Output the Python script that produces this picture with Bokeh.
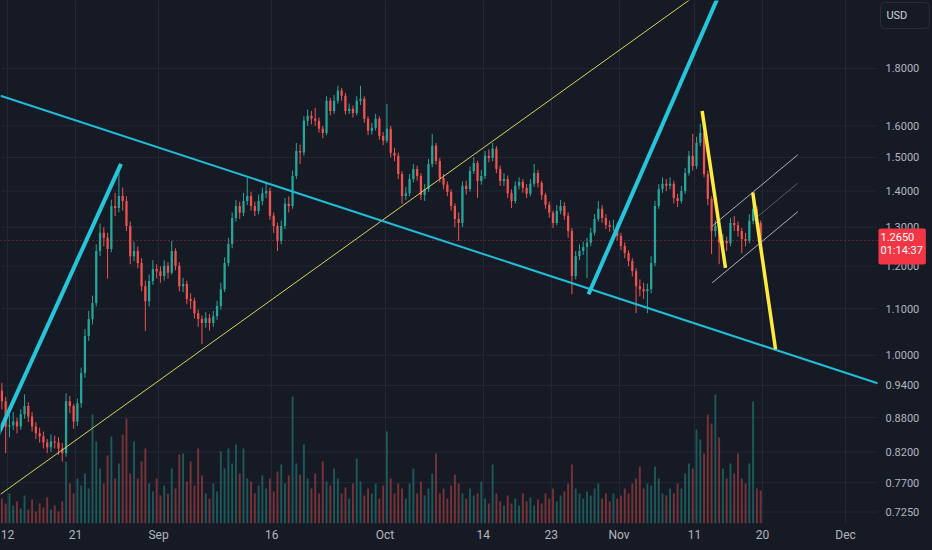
import pandas as pd
from bokeh.plotting import figure
from bokeh.models import (Range1d, LinearScale, FixedTicker, Label, ColumnDataSource,
                          GlobalInlineStyleSheet)
from bokeh.core.properties import value
from bokeh.embed import file_html
from bokeh.resources import INLINE

# ---------------- data (12h candles) ----------------
candle_start = "2024-08-11 06:00"
candle_hours = 12
first_open = 0.930

closes = [
    0.910, 0.864, 0.866, 0.873, 0.864, 0.886, 0.901, 0.882, 0.864, 0.852,
    0.847, 0.836, 0.828, 0.838, 0.836, 0.826, 0.818, 0.910, 0.901, 0.873,
    0.906, 0.964, 1.040, 1.077, 1.113, 1.238, 1.285, 1.272, 1.243, 1.358,
    1.352, 1.386, 1.372, 1.303, 1.225, 1.238, 1.208, 1.152, 1.117, 1.164,
    1.193, 1.188, 1.176, 1.201, 1.184, 1.238, 1.201, 1.152, 1.157, 1.122,
    1.118, 1.090, 1.077, 1.068, 1.079, 1.068, 1.083, 1.106, 1.145, 1.208,
    1.256, 1.325, 1.358, 1.339, 1.372, 1.386, 1.358, 1.344, 1.372, 1.394,
    1.400, 1.331, 1.303, 1.264, 1.303, 1.364, 1.358, 1.444, 1.520, 1.515,
    1.617, 1.634, 1.624, 1.617, 1.591, 1.577, 1.685, 1.650, 1.685, 1.720,
    1.702, 1.650, 1.657, 1.643, 1.685, 1.692, 1.624, 1.584, 1.594, 1.624,
    1.567, 1.552, 1.591, 1.514, 1.505, 1.450, 1.386, 1.394, 1.435, 1.465,
    1.444, 1.389, 1.406, 1.480, 1.536, 1.489, 1.438, 1.418, 1.397, 1.358,
    1.322, 1.311, 1.415, 1.406, 1.459, 1.483, 1.429, 1.444, 1.505, 1.498,
    1.527, 1.465, 1.429, 1.435, 1.394, 1.372, 1.415, 1.426, 1.409, 1.392,
    1.421, 1.453, 1.423, 1.389, 1.361, 1.339, 1.311, 1.344, 1.358, 1.331,
    1.290, 1.176, 1.225, 1.238, 1.248, 1.259, 1.285, 1.322, 1.350, 1.325,
    1.306, 1.301, 1.303, 1.277, 1.251, 1.233, 1.213, 1.188, 1.152, 1.145,
    1.140, 1.145, 1.208, 1.358, 1.406, 1.421, 1.415, 1.421, 1.380, 1.372,
    1.400, 1.453, 1.505, 1.474, 1.546, 1.577, 1.450, 1.377, 1.290, 1.303,
    1.259, 1.264, 1.258, 1.311, 1.305, 1.290, 1.269, 1.264, 1.317, 1.350,
    1.311, 1.265,
]

highs = [
    0.945, 0.918, 0.885, 0.890, 0.880, 0.895, 0.923, 0.908, 0.890, 0.872,
    0.862, 0.855, 0.842, 0.850, 0.848, 0.845, 0.835, 0.925, 0.920, 0.905,
    0.915, 0.975, 1.055, 1.095, 1.130, 1.255, 1.310, 1.300, 1.285, 1.375,
    1.395, 1.474, 1.410, 1.385, 1.315, 1.262, 1.250, 1.220, 1.165, 1.180,
    1.215, 1.205, 1.200, 1.215, 1.210, 1.264, 1.245, 1.210, 1.172, 1.165,
    1.135, 1.125, 1.098, 1.085, 1.092, 1.088, 1.095, 1.118, 1.160, 1.222,
    1.272, 1.340, 1.375, 1.370, 1.395, 1.440, 1.398, 1.370, 1.390, 1.410,
    1.425, 1.410, 1.340, 1.312, 1.318, 1.380, 1.385, 1.460, 1.545, 1.540,
    1.632, 1.655, 1.650, 1.660, 1.628, 1.600, 1.700, 1.695, 1.705, 1.737,
    1.730, 1.712, 1.675, 1.668, 1.700, 1.737, 1.700, 1.632, 1.610, 1.640,
    1.632, 1.580, 1.674, 1.600, 1.530, 1.515, 1.458, 1.412, 1.450, 1.480,
    1.475, 1.452, 1.420, 1.495, 1.574, 1.545, 1.498, 1.450, 1.428, 1.405,
    1.365, 1.340, 1.428, 1.430, 1.472, 1.500, 1.490, 1.462, 1.520, 1.525,
    1.545, 1.535, 1.475, 1.452, 1.445, 1.405, 1.428, 1.440, 1.435, 1.420,
    1.435, 1.480, 1.462, 1.430, 1.395, 1.370, 1.345, 1.360, 1.375, 1.368,
    1.340, 1.298, 1.238, 1.255, 1.262, 1.272, 1.298, 1.335, 1.372, 1.360,
    1.335, 1.318, 1.320, 1.312, 1.285, 1.260, 1.240, 1.220, 1.195, 1.168,
    1.160, 1.158, 1.225, 1.372, 1.420, 1.440, 1.435, 1.440, 1.430, 1.392,
    1.415, 1.468, 1.520, 1.574, 1.565, 1.607, 1.585, 1.460, 1.385, 1.318,
    1.310, 1.282, 1.275, 1.325, 1.330, 1.315, 1.298, 1.285, 1.335, 1.392,
    1.358, 1.318,
]

lows = [
    0.895, 0.818, 0.845, 0.858, 0.852, 0.858, 0.878, 0.872, 0.855, 0.842,
    0.836, 0.826, 0.818, 0.820, 0.826, 0.815, 0.804, 0.812, 0.888, 0.860,
    0.865, 0.898, 0.955, 1.030, 1.065, 1.105, 1.225, 1.250, 1.170, 1.235,
    1.330, 1.340, 1.345, 1.290, 1.205, 1.212, 1.195, 1.140, 1.051, 1.105,
    1.155, 1.170, 1.160, 1.165, 1.170, 1.180, 1.190, 1.140, 1.138, 1.110,
    1.100, 1.078, 1.060, 1.023, 1.058, 1.052, 1.060, 1.075, 1.098, 1.138,
    1.200, 1.245, 1.315, 1.322, 1.330, 1.360, 1.345, 1.330, 1.335, 1.360,
    1.380, 1.320, 1.285, 1.238, 1.255, 1.295, 1.340, 1.350, 1.435, 1.480,
    1.505, 1.600, 1.605, 1.600, 1.578, 1.560, 1.570, 1.635, 1.640, 1.675,
    1.685, 1.638, 1.640, 1.628, 1.635, 1.670, 1.610, 1.570, 1.572, 1.585,
    1.555, 1.538, 1.545, 1.500, 1.488, 1.435, 1.364, 1.375, 1.385, 1.425,
    1.430, 1.375, 1.372, 1.398, 1.470, 1.478, 1.425, 1.405, 1.385, 1.345,
    1.300, 1.264, 1.300, 1.390, 1.398, 1.450, 1.380, 1.418, 1.435, 1.485,
    1.488, 1.452, 1.415, 1.415, 1.380, 1.352, 1.365, 1.405, 1.395, 1.380,
    1.385, 1.412, 1.410, 1.375, 1.350, 1.325, 1.298, 1.305, 1.335, 1.320,
    1.272, 1.133, 1.168, 1.215, 1.228, 1.171, 1.250, 1.278, 1.315, 1.312,
    1.295, 1.288, 1.290, 1.265, 1.240, 1.220, 1.200, 1.175, 1.090, 1.128,
    1.122, 1.090, 1.135, 1.200, 1.350, 1.395, 1.400, 1.405, 1.365, 1.355,
    1.365, 1.392, 1.445, 1.460, 1.465, 1.535, 1.440, 1.360, 1.230, 1.275,
    1.205, 1.245, 1.238, 1.250, 1.290, 1.275, 1.232, 1.250, 1.258, 1.308,
    1.295, 1.255,
]

volumes = [
    25, 20, 30, 18, 22, 15, 28, 14, 24, 12,
    20, 16, 26, 14, 18, 12, 22, 62, 40, 30,
    45, 38, 50, 35, 109, 82, 55, 40, 68, 87,
    45, 60, 89, 105, 50, 82, 45, 62, 75, 40,
    32, 45, 28, 38, 30, 55, 35, 69, 70, 42,
    62, 38, 75, 48, 30, 25, 40, 32, 72, 55,
    75, 60, 79, 50, 75, 45, 42, 30, 38, 48,
    35, 45, 32, 52, 59, 40, 48, 127, 60, 49,
    79, 45, 35, 50, 30, 62, 42, 38, 55, 45,
    30, 36, 25, 40, 65, 42, 28, 35, 30, 40,
    25, 38, 92, 45, 30, 40, 35, 25, 40, 55,
    30, 42, 28, 35, 50, 70, 30, 35, 25, 38,
    49, 40, 30, 25, 35, 28, 30, 42, 25, 20,
    59, 30, 22, 18, 28, 20, 25, 18, 30, 22,
    26, 18, 24, 20, 30, 25, 35, 22, 28, 32,
    40, 59, 35, 30, 25, 32, 28, 35, 40, 25,
    30, 22, 30, 25, 28, 35, 30, 40, 45, 57,
    35, 40, 38, 57, 45, 30, 28, 35, 30, 40,
    35, 50, 60, 55, 94, 84, 70, 109, 100, 129,
    86, 55, 45, 60, 50, 70, 45, 40, 60, 122,
    35, 33,
]

# axes
tick_dates = ["2024-08-12", "2024-08-21", "2024-09-01", "2024-09-16", "2024-10-01",
              "2024-10-14", "2024-10-23", "2024-11-01", "2024-11-11", "2024-11-20",
              "2024-12-01"]
tick_labels = ["12", "21", "Sep", "16", "Oct", "14", "23", "Nov", "11", "20", "Dec"]
price_ticks = [0.725, 0.77, 0.82, 0.88, 0.94, 1.0, 1.1, 1.2, 1.3, 1.4, 1.5, 1.6, 1.8]
view_start, view_end = "2024-08-11 01:35", "2024-12-12 12:15"
scale_edge = "2024-12-05 05:30"      # where the price scale begins
scale_text_x = "2024-12-06 06:40"    # left edge of the price-scale texts
price_min, price_max = 0.7082, 2.069

last_price = 1.265
last_price_text = "1.2650"
countdown_text = "01:14:37"
currency = "USD"

# drawings: ((date, price), (date, price))
cyan_trend = (("2024-08-11 01:35", 1.702), ("2024-12-05 05:30", 0.944))
yellow_trend = (("2024-08-11 01:35", 0.752), ("2024-11-14 00:00", 2.158))
cyan_legs = [(("2024-08-10 00:00", 0.828), ("2024-08-27 00:40", 1.480)),
             (("2024-10-27 22:48", 1.133), ("2024-11-15 18:00", 2.209))]
yellow_legs = [(("2024-11-12 00:00", 1.650), ("2024-11-15 02:10", 1.196)),
               (("2024-11-18 16:48", 1.396), ("2024-11-21 17:17", 1.012))]
channel_lines = [(("2024-11-13 08:00", 1.303), ("2024-11-24 16:05", 1.508)),
                 (("2024-11-13 08:00", 1.160), ("2024-11-24 16:05", 1.342))]
channel_mid = (("2024-11-18 16:05", 1.317), ("2024-11-24 16:05", 1.423))

# ---------------- build ----------------
BG = "#161a25"
UP, DOWN = "#26a69a", "#ef5350"
TXT = "#b2b5be"
GRID = "#232734"
FRAME_H = 523

times = pd.date_range(candle_start, periods=len(closes), freq=f"{candle_hours}h")
opens = [first_open] + closes[:-1]
colors = [UP if c >= o else DOWN for o, c in zip(opens, closes)]
src = ColumnDataSource(dict(t=times, o=opens, c=closes, h=highs, l=lows,
                            v=volumes, col=colors))
slot_ms = candle_hours * 3600 * 1000
T = pd.Timestamp

p = figure(width=932, height=550, x_axis_type="datetime", y_axis_type="log",
           y_axis_location=None, output_backend="svg", toolbar_location=None,
           x_range=Range1d(T(view_start), T(view_end)),
           y_range=Range1d(price_min, price_max),
           min_border_left=0, min_border_top=0, min_border_right=0,
           min_border_bottom=550 - FRAME_H)
p.stylesheets = [GlobalInlineStyleSheet(
    css="html,body{margin:0;padding:0;background:#161a25;overflow:hidden;}")]
p.background_fill_color = BG
p.border_fill_color = BG
p.outline_line_color = None

p.extra_y_ranges = {"vol": Range1d(0, FRAME_H)}
p.extra_y_scales = {"vol": LinearScale()}

# grid
xt = FixedTicker(ticks=[T(d).value / 1e6 for d in tick_dates])
p.xgrid.ticker = xt
p.xgrid.grid_line_color = GRID
p.ygrid.grid_line_color = None
n = len(price_ticks)
p.segment(x0=[T(view_start)] * n, x1=[T(scale_edge)] * n, y0=price_ticks,
          y1=price_ticks, line_color=GRID, line_width=1)

# time axis
xa = p.xaxis[0]
xa.ticker = xt
xa.major_label_overrides = {T(d).value / 1e6: lab for d, lab in zip(tick_dates, tick_labels)}
xa.axis_line_color = None
xa.major_tick_line_color = None
xa.minor_tick_line_color = None
xa.major_tick_out = 0
xa.major_tick_in = 0
xa.major_label_text_color = TXT
xa.major_label_text_font = "Roboto"
xa.major_label_text_font_size = "12px"
xa.major_label_standoff = 4

# price scale texts
p.text(x=[T(scale_text_x)] * n, y=price_ticks, text=[f"{t:.4f}" for t in price_ticks],
       text_color=TXT, text_font=value("Roboto"), text_font_size="11px",
       text_baseline="middle", text_align="left")

# volume
p.vbar(x="t", width=slot_ms * 0.5, top="v", bottom=0, source=src,
       fill_color="col", line_color=None, fill_alpha=0.45, y_range_name="vol")

# candles
p.segment(x0="t", x1="t", y0="l", y1="h", source=src, line_color="col", line_width=1)
p.vbar(x="t", width=slot_ms * 0.6, top="o", bottom="c", source=src,
       fill_color="col", line_color=None)

# last price line
p.segment(x0=[T(view_start)], x1=[T(scale_edge)], y0=[last_price], y1=[last_price],
          line_color="#f23645", line_alpha=0.7, line_dash="1 3", line_width=1)


def seg(pair, color, width, alpha=1.0):
    (d0, v0), (d1, v1) = pair
    p.line([T(d0), T(d1)], [v0, v1], line_color=color, line_width=width,
           line_alpha=alpha)


seg(yellow_trend, "#d6d35a", 1)
seg(cyan_trend, "#22bcd6", 2)
for s in cyan_legs:
    seg(s, "#26c6da", 4)
for s in yellow_legs:
    seg(s, "#ffeb3b", 3.5)
for s in channel_lines:
    seg(s, "#d1d4dc", 1, 0.8)
seg(channel_mid, "#d1d4dc", 1, 0.35)

# price-scale badges
p.add_layout(Label(x=T(scale_text_x), y=last_price, x_offset=-7, y_offset=-6,
                   text=f"{last_price_text}\n{countdown_text}", text_color="white",
                   text_font="Roboto", text_font_size="11px", text_baseline="middle",
                   text_align="left", text_line_height=1.0,
                   background_fill_color="#f23645",
                   padding=(2, 3, 2, 8), border_radius=2))
p.add_layout(Label(x=T(scale_text_x), y=2.006, x_offset=-5,
                   text=currency, text_color="#d1d4dc", text_font="Roboto",
                   text_font_size="11px", text_baseline="middle", text_align="left",
                   background_fill_color=BG, border_line_color="#2a2e39",
                   padding=(6, 22, 6, 7), border_radius=4))

open("out.html", "w").write(file_html(p, INLINE))
